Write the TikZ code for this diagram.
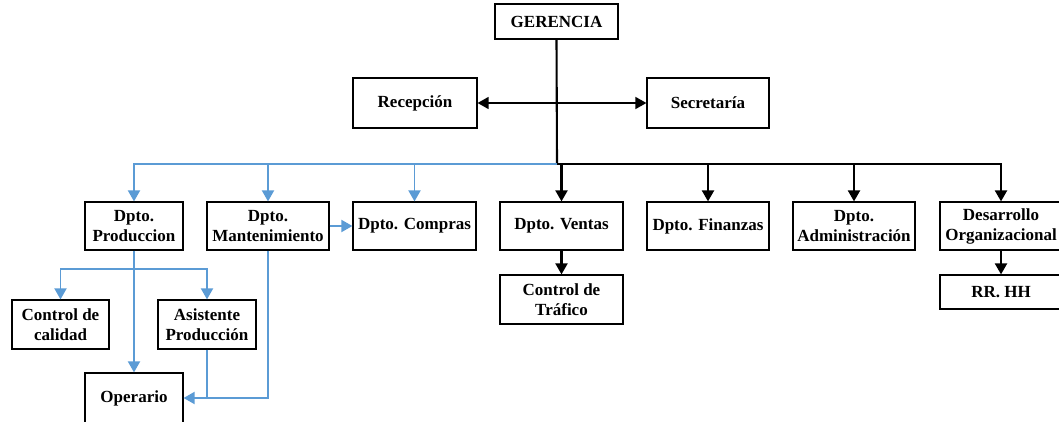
\documentclass[tikz,border=0pt]{standalone}
\usepackage{fontspec}
\setmainfont{Liberation Serif}
\usetikzlibrary{arrows.meta}
\definecolor{azul}{HTML}{5B9BD5}
\tikzset{
  caja/.style={draw, line width=1.2pt, inner sep=1pt, align=center,
    font=\fontsize{17}{20}\selectfont\bfseries},
  negro/.style={line width=2.1pt, black},
  azulado/.style={line width=1.9pt, azul},
  fl/.style={-{Triangle[length=11pt,width=12pt]}},
}
\begin{document}
\begin{tikzpicture}[x=1pt,y=-1pt]
\useasboundingbox (0,0) rectangle (1059,422);
% cajas
\node[caja, minimum width=123, minimum height=35] (ger) at (556.5,21.5) {GERENCIA};
\node[caja, minimum width=124, minimum height=50] (rec) at (415,103) {Recepción};
\node[caja, minimum width=122, minimum height=50] (sec) at (708,103) {Secretaría};
\node[caja, minimum width=98, minimum height=48] (prod) at (134,226) {Dpto.\\Produccion};
\node[caja, minimum width=122, minimum height=48] (mant) at (268,226) {Dpto.\\Mantenimiento};
\node[caja, minimum width=123, minimum height=48] (comp) at (414.5,226) {Dpto. Compras};
\node[caja, minimum width=123, minimum height=48] (vent) at (561.5,226) {Dpto. Ventas};
\node[caja, minimum width=122, minimum height=48] (fin) at (708,226) {Dpto. Finanzas};
\node[caja, minimum width=122, minimum height=48] (adm) at (854,226) {Dpto.\\Administración};
\node[caja, minimum width=122, minimum height=48] (desa) at (1001,226) {Desarrollo\\Organizacional};
\node[caja, minimum width=123, minimum height=49] (traf) at (561.5,299.5) {Control de\\Tráfico};
\node[caja, minimum width=122, minimum height=34] (rrhh) at (1001,292) {RR. HH};
\node[caja, minimum width=97, minimum height=49] (cal) at (60.5,324.5) {Control de\\calidad};
\node[caja, minimum width=98, minimum height=49] (asis) at (207,324.5) {Asistente\\Producción};
\node[caja, minimum width=98, minimum height=50] (oper) at (134,398) {Operario};
% lineas negras
\coordinate (bus) at (557,164);
\draw[negro, {Triangle[length=11pt,width=12pt]}-{Triangle[length=11pt,width=12pt]}, line width=1.5pt] (rec.east) -- (sec.west);
\draw[negro] (ger.south) -- (bus);
\draw[negro, fl] (bus) -| (desa.north);
\draw[negro, fl] (vent.north |- bus) -- (vent.north);
\draw[negro, fl] (fin.north |- bus) -- (fin.north);
\draw[negro, fl] (adm.north |- bus) -- (adm.north);
\draw[negro, fl] (vent.south) -- (traf.north);
\draw[negro, fl] (desa.south) -- (rrhh.north);
% lineas azules
\coordinate (sub) at (134,269);
\draw[azulado, fl] (bus) -| (prod.north);
\draw[azulado, fl] (mant.north |- bus) -- (mant.north);
\draw[azulado, fl] (comp.north |- bus) -- (comp.north);
\draw[azulado, fl] (mant.east) -- (comp.west);
\draw[azulado, fl] (sub) -| (cal.north);
\draw[azulado, fl] (sub) -| (asis.north);
\draw[azulado, fl] (prod.south) -- (oper.north);
\draw[azulado, fl] (asis.south) |- (oper.east);
\draw[azulado] (mant.south) |- (asis.south |- oper.east);
\end{tikzpicture}
\end{document}
